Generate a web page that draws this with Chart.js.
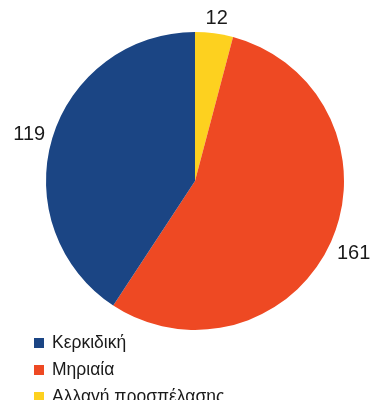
<!DOCTYPE html>
<html>
<head>
<meta charset="utf-8">
<script src="https://cdn.jsdelivr.net/npm/chart.js@4"></script>
<style>
  html, body { margin: 0; padding: 0; background: #fff; }
  #wrap { position: relative; width: 375px; height: 400px; overflow: hidden; }
  #legend { position: absolute; left: 34px; top: 330px; font-family: "Liberation Sans", Arial, sans-serif; font-size: 17.5px; color: #1a1a1a; }
  #legend div { height: 27px; line-height: 25px; white-space: nowrap; }
  #legend span { display: inline-block; width: 10px; height: 10px; margin-right: 8px; vertical-align: 0px; }
</style>
</head>
<body>
<div id="wrap">
  <canvas id="pieChart" width="375" height="400"></canvas>
  <div id="legend"></div>
</div>
<script>
// drawn clockwise from 12 o'clock: yellow, orange, blue
const labels = ["Αλλαγή προσπέλασης", "Μηριαία", "Κερκιδική"];
const values = [12, 161, 119];
const colors = ["#FDD11F", "#EE4923", "#1B4584"];
const legendOrder = [2, 1, 0];

// numbers just outside each slice
const outsideLabels = {
  id: "outsideLabels",
  afterDatasetsDraw(chart) {
    const ctx = chart.ctx;
    const meta = chart.getDatasetMeta(0);
    ctx.save();
    ctx.font = "20px 'Liberation Sans', Arial, sans-serif";
    ctx.fillStyle = "#1a1a1a";
    ctx.textAlign = "center";
    ctx.textBaseline = "middle";
    meta.data.forEach((arc, i) => {
      const mid = (arc.startAngle + arc.endAngle) / 2;
      const dx = Math.cos(mid), dy = Math.sin(mid);
      const text = String(values[i]);
      const w = ctx.measureText(text).width;
      const h = dy > 0 ? 40 : 14;
      const r = arc.outerRadius + 8;
      const x = arc.x + dx * r + dx * w / 2;
      const y = arc.y + dy * r + dy * h / 2;
      ctx.fillText(text, x, y);
    });
    ctx.restore();
  },
};

const pieChart = new Chart(document.getElementById("pieChart"), {
  type: "pie",
  data: {
    labels,
    datasets: [{ data: values, backgroundColor: colors, borderWidth: 0 }],
  },
  options: {
    responsive: false,
    animation: false,
    layout: { padding: { left: 46, right: 31, top: 32, bottom: 70 } },
    plugins: { legend: { display: false }, tooltip: { enabled: false } },
  },
  plugins: [outsideLabels],
});

const legendEl = document.getElementById("legend");
legendOrder.forEach((i) => {
  const row = document.createElement("div");
  const box = document.createElement("span");
  box.style.background = colors[i];
  row.appendChild(box);
  row.appendChild(document.createTextNode(labels[i]));
  legendEl.appendChild(row);
});
</script>
</body>
</html>
